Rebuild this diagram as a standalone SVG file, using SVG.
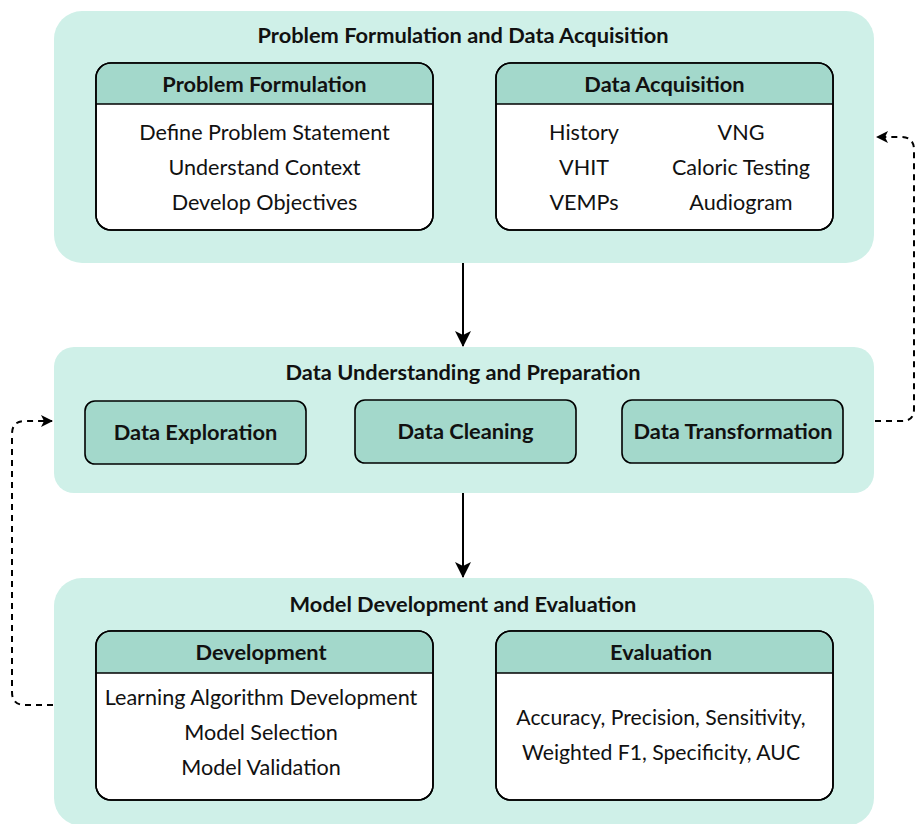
<svg xmlns="http://www.w3.org/2000/svg" width="919" height="824" viewBox="0 0 919 824">
  <defs>
    <marker id="arrow" viewBox="0 0 12 12" refX="11" refY="6" markerWidth="12" markerHeight="12" markerUnits="userSpaceOnUse" orient="auto">
      <path d="M0,0 L12,6 L0,12 L3,6 Z" fill="#000"/>
    </marker>
    <marker id="arrowBig" viewBox="0 0 16 16" refX="15" refY="8" markerWidth="16" markerHeight="16" markerUnits="userSpaceOnUse" orient="auto">
      <path d="M0,0 L16,8 L0,16 L4,8 Z" fill="#000"/>
    </marker>
  </defs>
  <style>
    .panel { fill: #cff0e8; }
    .box { fill: #ffffff; stroke: #000; stroke-width: 1.6; }
    .head { fill: #a3d8cb; }
    .tag { fill: #a3d8cb; stroke: #000; stroke-width: 1.6; }
    .sep { stroke: #000; stroke-width: 1.6; }
    text { font-family: Lato, "Open Sans", "Liberation Sans", sans-serif; fill: #111; text-anchor: middle; }
    .title { font-size: 21.8px; font-weight: bold; }
    .hd { font-size: 21.8px; font-weight: bold; }
    .item { font-size: 21.6px; }
    .flow { fill: none; stroke: #000; stroke-width: 2; }
    .loop { fill: none; stroke: #000; stroke-width: 2; stroke-dasharray: 6 5; }
  </style>

  <!-- Stage 1 -->
  <g id="stage-problem-data">
    <rect class="panel" x="54" y="11" width="820" height="252" rx="28"/>
    <text class="title" x="463" y="43">Problem Formulation and Data Acquisition</text>
  </g>
  <g id="problem-formulation">
    <rect class="box" x="96" y="63" width="337" height="167" rx="15"/>
    <path class="head" d="M111,63.8 H418 A14.2,14.2 0 0 1 432.2,78 V104 H96.8 V78 A14.2,14.2 0 0 1 111,63.8 Z"/>
    <rect x="96" y="63" width="337" height="167" rx="15" fill="none" stroke="#000" stroke-width="1.6"/>
    <line class="sep" x1="96" y1="104" x2="433" y2="104"/>
    <text class="hd" x="264.5" y="91.5">Problem Formulation</text>
    <text class="item" x="264.5" y="140">Define Problem Statement</text>
    <text class="item" x="264.5" y="175">Understand Context</text>
    <text class="item" x="264.5" y="210">Develop Objectives</text>
  </g>
  <g id="data-acquisition">
    <rect class="box" x="496" y="63" width="337" height="167" rx="15"/>
    <path class="head" d="M511,63.8 H818 A14.2,14.2 0 0 1 832.2,78 V104 H496.8 V78 A14.2,14.2 0 0 1 511,63.8 Z"/>
    <rect x="496" y="63" width="337" height="167" rx="15" fill="none" stroke="#000" stroke-width="1.6"/>
    <line class="sep" x1="496" y1="104" x2="833" y2="104"/>
    <text class="hd" x="664.5" y="91.5">Data Acquisition</text>
    <text class="item" x="584" y="140">History</text>
    <text class="item" x="584" y="175">VHIT</text>
    <text class="item" x="584" y="210">VEMPs</text>
    <text class="item" x="741" y="140">VNG</text>
    <text class="item" x="741" y="175">Caloric Testing</text>
    <text class="item" x="741" y="210">Audiogram</text>
  </g>

  <!-- Stage 2 -->
  <g id="stage-understanding">
    <rect class="panel" x="54" y="347" width="820" height="146" rx="20"/>
    <text class="title" x="463" y="380">Data Understanding and Preparation</text>
  </g>
  <g id="data-exploration">
    <rect class="tag" x="85" y="401" width="221" height="63" rx="10"/>
    <text class="hd" x="195.5" y="440">Data Exploration</text>
  </g>
  <g id="data-cleaning">
    <rect class="tag" x="355" y="400" width="221" height="63" rx="10"/>
    <text class="hd" x="465.5" y="439">Data Cleaning</text>
  </g>
  <g id="data-transformation">
    <rect class="tag" x="622" y="400" width="221" height="63" rx="10"/>
    <text class="hd" x="733" y="439">Data Transformation</text>
  </g>

  <!-- Stage 3 -->
  <g id="stage-model">
    <rect class="panel" x="54" y="578" width="820" height="248" rx="28"/>
    <text class="title" x="463" y="612">Model Development and Evaluation</text>
  </g>
  <g id="development">
    <rect class="box" x="96" y="631" width="337" height="169" rx="15"/>
    <path class="head" d="M111,631.8 H418 A14.2,14.2 0 0 1 432.2,646 V673 H96.8 V646 A14.2,14.2 0 0 1 111,631.8 Z"/>
    <rect x="96" y="631" width="337" height="169" rx="15" fill="none" stroke="#000" stroke-width="1.6"/>
    <line class="sep" x1="96" y1="673" x2="433" y2="673"/>
    <text class="hd" x="261" y="660">Development</text>
    <text class="item" x="261" y="705">Learning Algorithm Development</text>
    <text class="item" x="261" y="740">Model Selection</text>
    <text class="item" x="261" y="775">Model Validation</text>
  </g>
  <g id="evaluation">
    <rect class="box" x="496" y="631" width="337" height="169" rx="15"/>
    <path class="head" d="M511,631.8 H818 A14.2,14.2 0 0 1 832.2,646 V673 H496.8 V646 A14.2,14.2 0 0 1 511,631.8 Z"/>
    <rect x="496" y="631" width="337" height="169" rx="15" fill="none" stroke="#000" stroke-width="1.6"/>
    <line class="sep" x1="496" y1="673" x2="833" y2="673"/>
    <text class="hd" x="661" y="660">Evaluation</text>
    <text class="item" x="661" y="725" style="font-size:21.2px">Accuracy, Precision, Sensitivity,</text>
    <text class="item" x="661" y="760" style="font-size:21.2px">Weighted F1, Specificity, AUC</text>
  </g>

  <!-- Connectors -->
  <g id="connectors">
    <line class="flow" x1="463" y1="263" x2="463" y2="346" marker-end="url(#arrowBig)"/>
    <line class="flow" x1="463" y1="493" x2="463" y2="577" marker-end="url(#arrowBig)"/>
    <path class="loop" d="M875,421 H902 Q914,421 914,409 V150 Q914,137 901,137 H877" marker-end="url(#arrow)"/>
    <path class="loop" d="M53,705 H25 Q12,705 12,692 V434 Q12,421 25,421 H52" marker-end="url(#arrow)"/>
  </g>
</svg>
